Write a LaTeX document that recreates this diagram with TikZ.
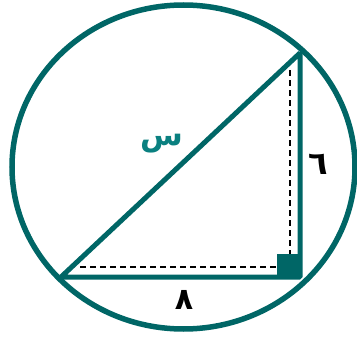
\documentclass[tikz,border=0pt]{standalone}
\usepackage{fontspec}
\newfontfamily\arabicfont[Script=Arabic]{DejaVu Sans}
\TeXXeTstate=1
\usepackage{tikz}
\usetikzlibrary{positioning, arrows.meta}
\definecolor{teal1}{HTML}{006666}
\definecolor{teal2}{HTML}{0A8080}

\begin{document}
\begin{tikzpicture}[x=1pt,y=-1pt,
  edge/.style={draw=teal1,line width=5pt,line join=bevel},
  guide/.style={draw=black,line width=1.6pt,dash pattern=on 6pt off 4pt},
  lbl/.style={inner sep=0pt,font=\arabicfont\bfseries}]
  \useasboundingbox (0,0) rectangle (357,340);
  \coordinate (o) at (183.5,167);
  \coordinate (a) at (61,277);
  \coordinate (b) at (300,277);
  \coordinate (c) at (300,53);

  \draw[teal1,line width=5.5pt] (o) ellipse [x radius=171.5pt, y radius=162pt];

  \draw[guide] (80,267) -- (277,267);
  \draw[guide] (290,70) -- (290,254);
  \fill[teal1] (277,254) rectangle (300,277);

  \draw[edge] (a) -- (b) -- (c) -- cycle;

  \node[lbl,text=teal2,font=\arabicfont\bfseries\fontsize{31}{33}\selectfont] (s) at (162,144) {\beginR س\endR};
  \node[lbl,font=\arabicfont\bfseries\fontsize{32}{34}\selectfont] (six) at (318,164) {\beginR ٦\endR};
  \node[lbl,font=\arabicfont\bfseries\fontsize{30}{32}\selectfont] (eight) at (184,300) {\beginR ٨\endR};
\end{tikzpicture}
\end{document}
